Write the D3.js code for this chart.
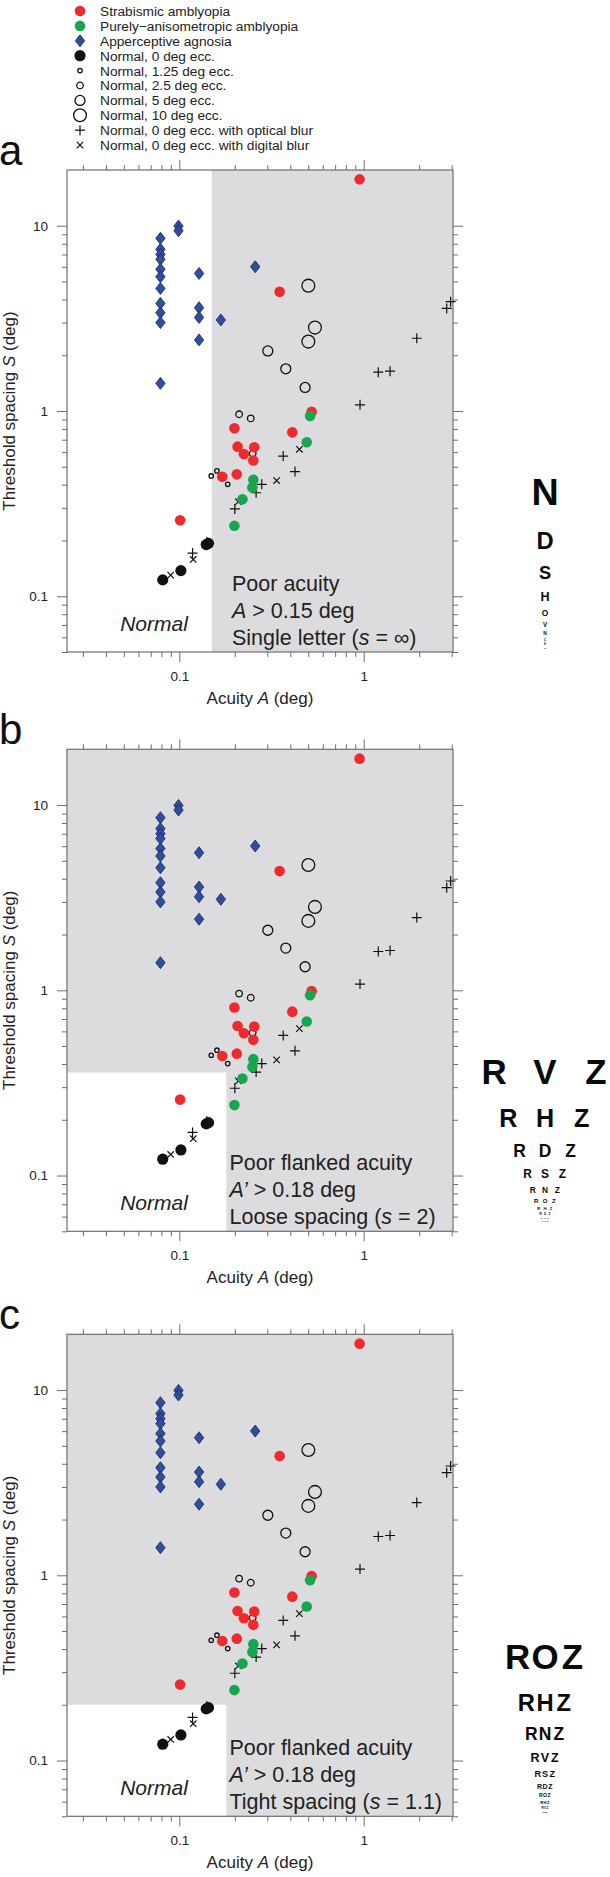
<!DOCTYPE html>
<html><head><meta charset="utf-8">
<script src="https://cdn.jsdelivr.net/npm/d3@7"></script>
<style>
body{margin:0;background:#fff;}
svg{display:block;font-family:"Liberation Sans",Arial,Helvetica,sans-serif;}
</style></head>
<body><svg id="chart" width="610" height="1877"></svg>
<script>
// ---------------- data ----------------
const strabismic = [[0.95,17.8],[0.35,4.4],[0.101,0.257],[0.199,0.807],[0.207,0.642],[0.255,0.637],[0.224,0.586],[0.252,0.54],[0.205,0.455],[0.171,0.442],[0.41,0.767],[0.522,0.99]];
const anisometropic = [[0.512,0.94],[0.491,0.678],[0.252,0.425],[0.249,0.386],[0.22,0.334],[0.199,0.24]];
const agnosia = [[0.079,8.55],[0.079,7.46],[0.079,7.01],[0.079,6.59],[0.079,5.82],[0.079,5.31],[0.079,4.59],[0.079,3.81],[0.079,3.39],[0.079,3.0],[0.079,1.41],[0.099,9.96],[0.099,9.4],[0.128,5.53],[0.128,3.61],[0.128,3.2],[0.128,2.42],[0.168,3.1],[0.258,6.01]];
const normal0 = [[0.0813,0.1225],[0.102,0.1375],[0.14,0.19],[0.144,0.193]];
const normal125 = [[0.149,0.446],[0.16,0.475],[0.183,0.402]];
const normal25 = [[0.211,0.96],[0.244,0.912],[0.25,0.59]];
const normal5 = [[0.302,2.11],[0.378,1.69],[0.481,1.34]];
const normal10 = [[0.501,4.75],[0.544,2.82],[0.501,2.37]];
const opticalBlur = [[1.94,2.47],[1.2,1.62],[1.39,1.64],[2.82,3.58],[2.96,3.89],[0.955,1.08],[0.366,0.571],[0.424,0.471],[0.28,0.402],[0.261,0.362],[0.2,0.296],[0.118,0.171],[0.141,0.197]];
const digitalBlur = [[0.448,0.621],[0.337,0.421],[0.119,0.158],[0.0898,0.130],[0.209,0.324]];

const xTickValues = [0.03,0.04,0.05,0.06,0.07,0.08,0.09,0.1,0.2,0.3,0.4,0.5,0.6,0.7,0.8,0.9,1,2,3];
const yTickValues = [0.05,0.06,0.07,0.08,0.09,0.1,0.2,0.3,0.4,0.5,0.6,0.7,0.8,0.9,1,2,3,4,5,6,7,8,9,10];
const majorTicks = [0.1,1,10];

const legendLabels = ["Strabismic amblyopia","Purely\u2212anisometropic amblyopia","Apperceptive agnosia","Normal, 0 deg ecc.","Normal, 1.25 deg ecc.","Normal, 2.5 deg ecc.","Normal, 5 deg ecc.","Normal, 10 deg ecc.","Normal, 0 deg ecc. with optical blur","Normal, 0 deg ecc. with digital blur"];

// panel definitions: letter, normal-region bounds, annotation lines
const panelLetters = ["a","b","c"];
const normalMaxA = [0.15, 0.18, 0.18];
const normalMaxS = [Infinity, 0.36, 0.2];
const annotLine1 = ["Poor acuity","Poor flanked acuity","Poor flanked acuity"];
const annotVar = ["A","A\u2019","A\u2019"];
const annotValue = [" > 0.15 deg"," > 0.18 deg"," > 0.18 deg"];
const annotLine3 = [["Single letter (","s"," = \u221e)"],["Loose spacing (","s"," = 2)"],["Tight spacing (","s"," = 1.1)"]];

// letter charts
const chartRows = [
  ["N","D","S","H","O","V","N","C","K","R"],
  ["RVZ","RHZ","RDZ","RSZ","RNZ","ROZ","RHZ","RDZ","RSZ","RNZ"],
  ["ROZ","RHZ","RNZ","RVZ","RSZ","RDZ","ROZ","RHZ","RVZ","RSZ"]
];
const chartCaps = [
  [27,17,13,9,6,4.5,3.5,2.5,2,1.6],
  [25,18,12.5,8.5,6,4.3,3,2.2,1.6,1.2],
  [25,17,12.5,9,6.5,5,3.7,3,2.2,1.6]
];
const chartSpacing = [0, 2.04, 1.1];

// ---------------- drawing ----------------
const svg = d3.select("#chart");
const RED="#ee2a2e", GREEN="#17a64f", BLUE="#2f4f9e", BLUESTROKE="#15255a", GRAY="#dcdcde", AXIS="#6e6e6e";
const left=67, right=453, H=482;
const tops=[170, 749.3, 1334.3];

const x = d3.scaleLog().domain([0.0246, 3.05]).range([left, right]);

function plusPath(s){return `M${-s},0H${s}M0,${-s}V${s}`;}
function crossPath(s){return `M${-s},${-s}L${s},${s}M${-s},${s}L${s},${-s}`;}
function diamondPath(w,h){return `M0,${-h}L${w},0L0,${h}L${-w},0Z`;}

function drawMarker(g, type){
  switch(type){
    case "red": g.append("circle").attr("r",5.3).attr("fill",RED); break;
    case "green": g.append("circle").attr("r",5.3).attr("fill",GREEN); break;
    case "diamond": g.append("path").attr("d",diamondPath(4.7,6)).attr("fill",BLUE).attr("stroke",BLUESTROKE).attr("stroke-width",0.8); break;
    case "black": g.append("circle").attr("r",5.6).attr("fill","#111"); break;
    case "o125": g.append("circle").attr("r",2.2).attr("fill","none").attr("stroke","#111").attr("stroke-width",1.3); break;
    case "o25": g.append("circle").attr("r",3.3).attr("fill","none").attr("stroke","#111").attr("stroke-width",1.3); break;
    case "o5": g.append("circle").attr("r",5).attr("fill","none").attr("stroke","#111").attr("stroke-width",1.3); break;
    case "o10": g.append("circle").attr("r",6.4).attr("fill","none").attr("stroke","#111").attr("stroke-width",1.3); break;
    case "plus": g.append("path").attr("d",plusPath(5)).attr("stroke","#111").attr("stroke-width",1.2).attr("fill","none"); break;
    case "cross": g.append("path").attr("d",crossPath(3.2)).attr("stroke","#111").attr("stroke-width",1.2).attr("fill","none"); break;
  }
}

// legend
const legendTypes = ["red","green","diamond","black","o125","o25","o5","o10","plus","cross"];
const leg = svg.append("g");
legendLabels.forEach((lab,i)=>{
  const yy = 11 + i*14.9;
  const m = leg.append("g").attr("transform",`translate(80,${yy})`);
  drawMarker(m, legendTypes[i]);
  leg.append("text").attr("x",100).attr("y",yy).attr("dy","0.36em").attr("font-size",13.7).attr("fill","#222").text(lab);
});

const series = [
  [normal10,"o10"],[normal5,"o5"],[normal25,"o25"],[normal125,"o125"],
  [opticalBlur,"plus"],[digitalBlur,"cross"],
  [strabismic,"red"],[anisometropic,"green"],[normal0,"black"],[agnosia,"diamond"]
];

tops.forEach((top,p)=>{
  const y = d3.scaleLog().domain([0.05, 20]).range([top+H, top]);
  const g = svg.append("g");
  // background gray + white normal region
  g.append("rect").attr("x",left).attr("y",top).attr("width",right-left).attr("height",H).attr("fill",GRAY);
  const nxr = x(normalMaxA[p]);
  const nyt = isFinite(normalMaxS[p]) ? y(normalMaxS[p]) : top;
  g.append("rect").attr("x",left).attr("y",nyt).attr("width",nxr-left).attr("height",top+H-nyt).attr("fill","#fff");

  // axes
  const fmt = d => majorTicks.includes(d) ? d3.format("~g")(d) : "";
  const axes = [
    [d3.axisBottom(x).tickValues(xTickValues).tickFormat(fmt), `translate(0,${top+H})`, true],
    [d3.axisTop(x).tickValues(xTickValues).tickFormat(""), `translate(0,${top})`, false],
    [d3.axisLeft(y).tickValues(yTickValues).tickFormat(fmt), `translate(${left},0)`, true],
    [d3.axisRight(y).tickValues(yTickValues).tickFormat(""), `translate(${right},0)`, false]
  ];
  axes.forEach(([ax,tr,lab])=>{
    ax.tickSizeOuter(0).tickSize(5).tickPadding(lab?14:3);
    const a = g.append("g").attr("transform",tr).call(ax);
    a.select(".domain").remove();
    a.selectAll(".tick line").attr("stroke",AXIS).attr("stroke-width",1)
      .each(function(d){
        if(majorTicks.includes(d)){
          const l=d3.select(this);
          if(l.attr("x2")!=null && +l.attr("x2")!==0) l.attr("x2", +l.attr("x2")*2);
          if(l.attr("y2")!=null && +l.attr("y2")!==0) l.attr("y2", +l.attr("y2")*2);
        }
      });
    a.selectAll(".tick text").attr("font-size",13.5).attr("fill","#222").attr("font-family",'"Liberation Sans",Arial,sans-serif');
  });
  // frame
  g.append("rect").attr("x",left).attr("y",top).attr("width",right-left).attr("height",H)
    .attr("fill","none").attr("stroke",AXIS).attr("stroke-width",1.2);

  // axis titles
  const xt = g.append("text").attr("x",(left+right)/2).attr("y",top+H+52).attr("text-anchor","middle").attr("font-size",17).attr("fill","#222");
  xt.append("tspan").text("Acuity ");
  xt.append("tspan").attr("font-style","italic").text("A");
  xt.append("tspan").text(" (deg)");
  const yt = g.append("text").attr("transform",`translate(15,${top+H/2}) rotate(-90)`).attr("text-anchor","middle").attr("font-size",17).attr("fill","#222");
  yt.append("tspan").text("Threshold spacing ");
  yt.append("tspan").attr("font-style","italic").text("S");
  yt.append("tspan").text(" (deg)");

  // panel letter
  g.append("text").attr("x",-1).attr("y",top-5).attr("font-size",42).attr("fill","#111").text(panelLetters[p]);

  // annotations
  const ax0 = p===0 ? 232 : 229.5;
  g.append("text").attr("x",ax0).attr("y",top+420.7).attr("font-size",21.5).attr("fill","#222").text(annotLine1[p]);
  const t2 = g.append("text").attr("x",ax0).attr("y",top+447.7).attr("font-size",21.5).attr("fill","#222");
  t2.append("tspan").attr("font-style","italic").text(annotVar[p]);
  t2.append("tspan").text(annotValue[p]);
  const t3 = g.append("text").attr("x",ax0).attr("y",top+474.7).attr("font-size",21.5).attr("fill","#222");
  t3.append("tspan").text(annotLine3[p][0]);
  t3.append("tspan").attr("font-style","italic").text(annotLine3[p][1]);
  t3.append("tspan").text(annotLine3[p][2]);
  g.append("text").attr("x",154).attr("y",top+460.7).attr("text-anchor","middle").attr("font-size",21).attr("font-style","italic").attr("fill","#222").text("Normal");

  // data
  series.forEach(([pts,type])=>{
    pts.forEach(d=>{
      const m = g.append("g").attr("transform",`translate(${x(d[0])},${y(d[1])})`);
      drawMarker(m,type);
    });
  });

  // letter chart
  const lc = g.append("g");
  let cy = top + 321.7;
  const rows = chartRows[p], caps = chartCaps[p];
  rows.forEach((row,i)=>{
    const cap = caps[i];
    if(i>0) cy += caps[i-1]/2 + caps[i-1] + cap/2;
    const fs = cap/0.716;
    const n = row.length;
    for(let k=0;k<n;k++){
      const cx = 545 + (k-(n-1)/2)*chartSpacing[p]*cap;
      lc.append("text").attr("x",cx).attr("y",cy+cap/2).attr("text-anchor","middle")
        .attr("font-size",fs).attr("font-weight","bold").attr("fill","#0a0a0a").text(row[k]);
    }
  });
});
</script></body></html>
